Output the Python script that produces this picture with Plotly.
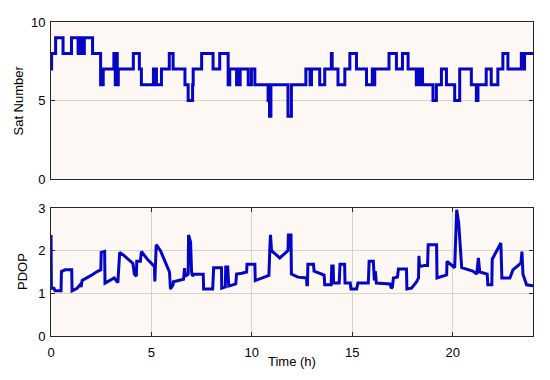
import plotly.graph_objects as go

# ---- Data ----
sat_time = [0.0, 0.03, 0.23, 0.6, 1.02, 1.35, 1.42, 1.48, 1.55, 1.6, 1.66, 2.07, 2.47, 2.6,
            3.13, 3.2, 3.26, 3.3, 3.35, 4.1, 4.4, 4.5, 5.1, 5.15, 5.2, 5.25, 5.5, 5.84,
            5.89, 6.08, 6.67, 6.83, 7.05, 7.08, 7.5, 8.07, 8.4, 8.82, 8.9, 9.24, 9.3,
            9.36, 9.42, 9.5, 9.82, 9.98, 10.15, 10.81, 10.88, 10.95, 11.8, 11.97, 12.69,
            12.9, 12.97, 13.38, 13.63, 13.96, 14.0, 14.29, 14.63, 14.88, 15.21, 15.71,
            16.0, 16.05, 16.12, 16.83, 17.2, 17.5, 17.78, 18.19, 18.27, 18.35, 18.43,
            18.5, 18.6, 19.02, 19.19, 19.44, 19.69, 20.1, 20.35, 20.93, 21.18, 21.26,
            21.67, 21.92, 22.25, 22.5, 22.75, 23.42, 23.5, 23.58, 24.0]
sat_count = [7, 8, 9, 8, 9, 8, 9, 8, 9, 8, 9, 8, 6, 7,
             8, 6, 8, 6, 7, 8, 7, 6, 7, 6, 7, 6, 7, 7,
             8, 7, 6, 5, 6, 7, 8, 7, 8, 6, 7, 6, 7,
             6, 7, 7, 6, 7, 6, 5, 4, 6, 4, 6, 7,
             6, 7, 6, 7, 8, 7, 6, 7, 8, 7, 6,
             7, 6, 7, 8, 7, 8, 7, 6, 7, 6, 7,
             6, 6, 5, 6, 7, 6, 5, 7, 6, 5, 6,
             7, 6, 7, 8, 7, 8, 7, 8, 8]

pdop_time = [0.0, 0.02, 0.15, 0.2, 0.5, 0.52, 0.7, 1.03, 1.05, 1.3, 1.45, 1.5, 1.55, 1.8,
             2.0, 2.3, 2.48, 2.5, 2.67, 2.69, 3.0, 3.15, 3.33, 3.42, 3.6, 4.08, 4.15,
             4.25, 4.27, 4.45, 4.5, 4.8, 5.15, 5.17, 5.24, 5.45, 5.65, 5.9, 5.95, 6.08,
             6.1, 6.6, 6.65, 6.68, 6.83, 6.85, 6.95, 7.0, 7.05, 7.1, 7.58, 7.6, 8.05,
             8.1, 8.49, 8.5, 8.68, 8.7, 8.8, 8.85, 9.2, 9.24, 9.5, 9.74, 9.76, 10.15,
             10.17, 10.85, 10.9, 10.93, 10.98, 11.39, 11.8, 11.82, 11.95, 11.97, 12.3,
             12.72, 12.74, 12.77, 12.79, 13.07, 13.1, 13.55, 13.6, 13.63, 13.95, 13.98,
             14.05, 14.07, 14.35, 14.39, 14.62, 14.64, 14.9, 14.94, 15.22, 15.28, 15.8,
             15.84, 16.05, 16.1, 16.15, 16.2, 16.88, 16.95, 17.0, 17.05, 17.25, 17.3,
             17.7, 17.72, 17.95, 18.2, 18.3, 18.32, 18.35, 18.6, 18.75, 18.78, 19.2,
             19.22, 19.7, 19.72, 20.1, 20.2, 20.3, 20.45, 21.0, 21.2, 21.28, 21.35,
             21.72, 21.75, 21.95, 21.97, 22.4, 22.45, 22.85, 23.0, 23.4, 23.45, 23.5,
             23.68, 24.0]
pdop_value = [2.37, 1.12, 1.12, 1.06, 1.06, 1.51, 1.55, 1.55, 1.06, 1.12, 1.2, 1.15, 1.3, 1.36,
              1.42, 1.51, 1.55, 1.96, 1.98, 1.24, 1.33, 1.36, 1.25, 1.96, 1.9, 1.7, 1.45,
              1.4, 1.75, 1.75, 1.98, 1.8, 1.63, 1.28, 2.14, 2.0, 1.78, 1.5, 1.1, 1.2,
              1.27, 1.33, 1.59, 1.4, 1.45, 2.37, 2.2, 1.5, 1.4, 1.45, 1.45, 1.1, 1.1,
              1.6, 1.6, 1.12, 1.15, 1.62, 1.62, 1.17, 1.22, 1.45, 1.47, 1.5, 1.68, 1.68,
              1.3, 1.42, 2.1, 2.37, 2.0, 1.83, 2.0, 2.37, 2.37, 1.45, 1.38,
              1.36, 1.2, 1.2, 1.68, 1.68, 1.52, 1.45, 1.43, 1.2, 1.2, 1.64,
              1.64, 1.24, 1.24, 1.68, 1.68, 1.24, 1.24, 1.1, 1.1, 1.24, 1.24,
              1.75, 1.75, 1.3, 1.52, 1.24, 1.22, 1.12, 1.15, 1.36, 1.38, 1.57,
              1.57, 1.1, 1.12, 1.27, 1.36, 1.88, 1.63, 1.65, 1.65, 2.14, 2.14,
              1.36, 1.43, 1.75, 1.6, 2.96, 2.65, 1.6, 1.52, 1.45, 1.83, 1.5,
              1.45, 1.2, 1.2, 1.8, 2.18, 1.36, 1.36, 1.55, 1.71, 1.98, 1.45,
              1.2, 1.18]

x_ticks = [0, 5, 10, 15, 20]
sat_ticks = [0, 5, 10]
pdop_ticks = [0, 1, 2, 3]

LINE = "#0505C4"
FONT = "Liberation Sans, Arial, sans-serif"
AX = "#262626"
GRID = "#D6D3CF"

fig = go.Figure()
fig.add_trace(go.Scatter(x=sat_time, y=sat_count, mode="lines", line_shape="hv",
                         line=dict(color=LINE, width=3), xaxis="x", yaxis="y",
                         showlegend=False))
fig.add_trace(go.Scatter(x=pdop_time, y=pdop_value, mode="lines",
                         line=dict(color=LINE, width=3), xaxis="x2", yaxis="y2",
                         showlegend=False))

common = dict(showline=True, linecolor=AX, linewidth=1, mirror="ticks",
              ticks="inside", ticklen=4, tickcolor=AX, zeroline=False,
              tickfont=dict(family=FONT, size=13, color="#000000"))

fig.update_layout(
    width=550, height=380,
    margin=dict(l=51, r=17, t=22, b=44),
    paper_bgcolor="white", plot_bgcolor="#FDF8F3",
    font=dict(family=FONT, size=13, color="#000000"),
    xaxis=dict(domain=[0, 1], range=[0, 24], anchor="y", showticklabels=False,
               showgrid=False, showline=True, linecolor=AX, linewidth=1, mirror=True,
               ticks="", zeroline=False),
    yaxis=dict(domain=[0.5, 1], range=[0, 10], anchor="x", tickvals=sat_ticks,
               showgrid=True, gridcolor=GRID, gridwidth=1, ticklabelstandoff=2, **common),
    xaxis2=dict(domain=[0, 1], range=[0, 24], anchor="y2", tickvals=x_ticks,
                showgrid=True, gridcolor=GRID, gridwidth=1, ticklabelstandoff=4, **common),
    yaxis2=dict(domain=[0, 0.4076], range=[0, 3], anchor="x2", tickvals=pdop_ticks,
                showgrid=True, gridcolor=GRID, gridwidth=1, ticklabelstandoff=2, **common),
    annotations=[
        dict(text="Sat Number", xref="paper", yref="paper", x=0, y=0.75, xshift=-33,
             textangle=-90, showarrow=False, xanchor="center", yanchor="middle",
             font=dict(family=FONT, size=13, color="#000000")),
        dict(text="PDOP", xref="paper", yref="paper", x=0, y=0.2038, xshift=-29,
             textangle=-90, showarrow=False, xanchor="center", yanchor="middle",
             font=dict(family=FONT, size=13, color="#000000")),
        dict(text="Time (h)", xref="paper", yref="paper", x=0.5, y=0, yshift=-25,
             showarrow=False, xanchor="center", yanchor="middle",
             font=dict(family=FONT, size=13, color="#000000")),
    ],
)

fig.write_html("out.html", config={"displayModeBar": False},
               post_script="document.body.style.margin='0';document.body.style.overflow='hidden';")
